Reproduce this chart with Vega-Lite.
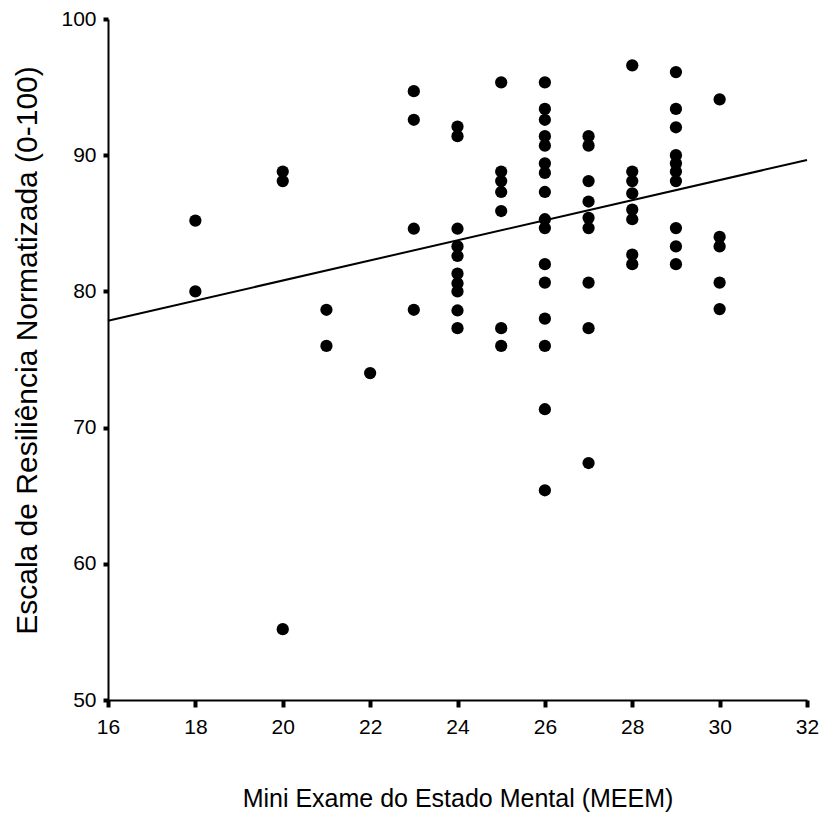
{
  "$schema": "https://vega.github.io/schema/vega-lite/v6.json",
  "autosize": {"type": "none"},
  "width": 699,
  "height": 681,
  "padding": {"left": 108, "top": 19, "right": 17, "bottom": 126},
  "background": "white",
  "config": {
    "view": {"stroke": null},
    "axis": {
      "grid": false,
      "domainColor": "black",
      "domainWidth": 2,
      "tickColor": "black",
      "tickWidth": 4,
      "labelColor": "black",
      "titleColor": "black",
      "labelFont": "Liberation Sans",
      "labelFontSize": 21,
      "labelFlush": false,
      "titleFontWeight": "normal"
    }
  },
  "datasets": {
    "points": [
      {"meem": 18, "resiliencia": 85.2}, {"meem": 18, "resiliencia": 80.0},
      {"meem": 20, "resiliencia": 88.8}, {"meem": 20, "resiliencia": 88.1}, {"meem": 20, "resiliencia": 55.2},
      {"meem": 21, "resiliencia": 78.65}, {"meem": 21, "resiliencia": 76.0},
      {"meem": 22, "resiliencia": 74.0},
      {"meem": 23, "resiliencia": 94.7}, {"meem": 23, "resiliencia": 92.6}, {"meem": 23, "resiliencia": 84.6}, {"meem": 23, "resiliencia": 78.65},
      {"meem": 24, "resiliencia": 92.1}, {"meem": 24, "resiliencia": 91.4}, {"meem": 24, "resiliencia": 84.6}, {"meem": 24, "resiliencia": 83.3}, {"meem": 24, "resiliencia": 82.6}, {"meem": 24, "resiliencia": 81.3}, {"meem": 24, "resiliencia": 80.6}, {"meem": 24, "resiliencia": 80.0}, {"meem": 24, "resiliencia": 78.6}, {"meem": 24, "resiliencia": 77.3},
      {"meem": 25, "resiliencia": 95.35}, {"meem": 25, "resiliencia": 88.8}, {"meem": 25, "resiliencia": 88.1}, {"meem": 25, "resiliencia": 87.3}, {"meem": 25, "resiliencia": 85.9}, {"meem": 25, "resiliencia": 77.3}, {"meem": 25, "resiliencia": 76.0},
      {"meem": 26, "resiliencia": 95.35}, {"meem": 26, "resiliencia": 93.4}, {"meem": 26, "resiliencia": 92.6}, {"meem": 26, "resiliencia": 91.4}, {"meem": 26, "resiliencia": 90.7}, {"meem": 26, "resiliencia": 89.4}, {"meem": 26, "resiliencia": 88.7}, {"meem": 26, "resiliencia": 87.3}, {"meem": 26, "resiliencia": 85.3}, {"meem": 26, "resiliencia": 84.65}, {"meem": 26, "resiliencia": 82.0}, {"meem": 26, "resiliencia": 80.65}, {"meem": 26, "resiliencia": 78.0}, {"meem": 26, "resiliencia": 76.0}, {"meem": 26, "resiliencia": 71.35}, {"meem": 26, "resiliencia": 65.4},
      {"meem": 27, "resiliencia": 91.4}, {"meem": 27, "resiliencia": 90.7}, {"meem": 27, "resiliencia": 88.1}, {"meem": 27, "resiliencia": 86.6}, {"meem": 27, "resiliencia": 85.4}, {"meem": 27, "resiliencia": 84.65}, {"meem": 27, "resiliencia": 80.65}, {"meem": 27, "resiliencia": 77.3}, {"meem": 27, "resiliencia": 67.4},
      {"meem": 28, "resiliencia": 96.6}, {"meem": 28, "resiliencia": 88.8}, {"meem": 28, "resiliencia": 88.1}, {"meem": 28, "resiliencia": 87.2}, {"meem": 28, "resiliencia": 86.0}, {"meem": 28, "resiliencia": 85.3}, {"meem": 28, "resiliencia": 82.7}, {"meem": 28, "resiliencia": 82.0},
      {"meem": 29, "resiliencia": 96.1}, {"meem": 29, "resiliencia": 93.4}, {"meem": 29, "resiliencia": 92.05}, {"meem": 29, "resiliencia": 90.0}, {"meem": 29, "resiliencia": 89.4}, {"meem": 29, "resiliencia": 88.8}, {"meem": 29, "resiliencia": 88.1}, {"meem": 29, "resiliencia": 84.65}, {"meem": 29, "resiliencia": 83.3}, {"meem": 29, "resiliencia": 82.0},
      {"meem": 30, "resiliencia": 94.1}, {"meem": 30, "resiliencia": 84.0}, {"meem": 30, "resiliencia": 83.3}, {"meem": 30, "resiliencia": 80.65}, {"meem": 30, "resiliencia": 78.7}
    ],
    "fit": [
      {"meem": 16, "resiliencia": 77.85},
      {"meem": 32, "resiliencia": 89.65}
    ]
  },
  "layer": [
    {
      "data": {"name": "fit"},
      "mark": {"type": "line", "color": "black", "strokeWidth": 2},
      "encoding": {
        "x": {"field": "meem", "type": "quantitative"},
        "y": {"field": "resiliencia", "type": "quantitative"}
      }
    },
    {
      "data": {"name": "points"},
      "mark": {"type": "point", "shape": "circle", "filled": true, "color": "black", "opacity": 1, "size": 150},
      "encoding": {
        "x": {
          "field": "meem", "type": "quantitative",
          "scale": {"domain": [16, 32], "nice": false, "zero": false},
          "axis": {
            "values": [16, 18, 20, 22, 24, 26, 28, 30, 32],
            "tickSize": 7,
            "labelPadding": 9,
            "title": "Mini Exame do Estado Mental (MEEM)",
            "titleFont": "Liberation Sans",
            "titleFontSize": 25,
            "titleBaseline": "middle",
            "titleY": 98
          }
        },
        "y": {
          "field": "resiliencia", "type": "quantitative",
          "scale": {"domain": [50, 100], "nice": false, "zero": false},
          "axis": {
            "values": [50, 60, 70, 80, 90, 100],
            "tickSize": 5,
            "labelPadding": 7,
            "title": "Escala de Resiliência Normatizada (0-100)",
            "titleFont": "Liberation Sans",
            "titleFontSize": 30,
            "titleAlign": "center",
            "titleBaseline": "middle",
            "titleX": -81,
            "titleY": 331,
            "titleAngle": -90
          }
        }
      }
    }
  ]
}
